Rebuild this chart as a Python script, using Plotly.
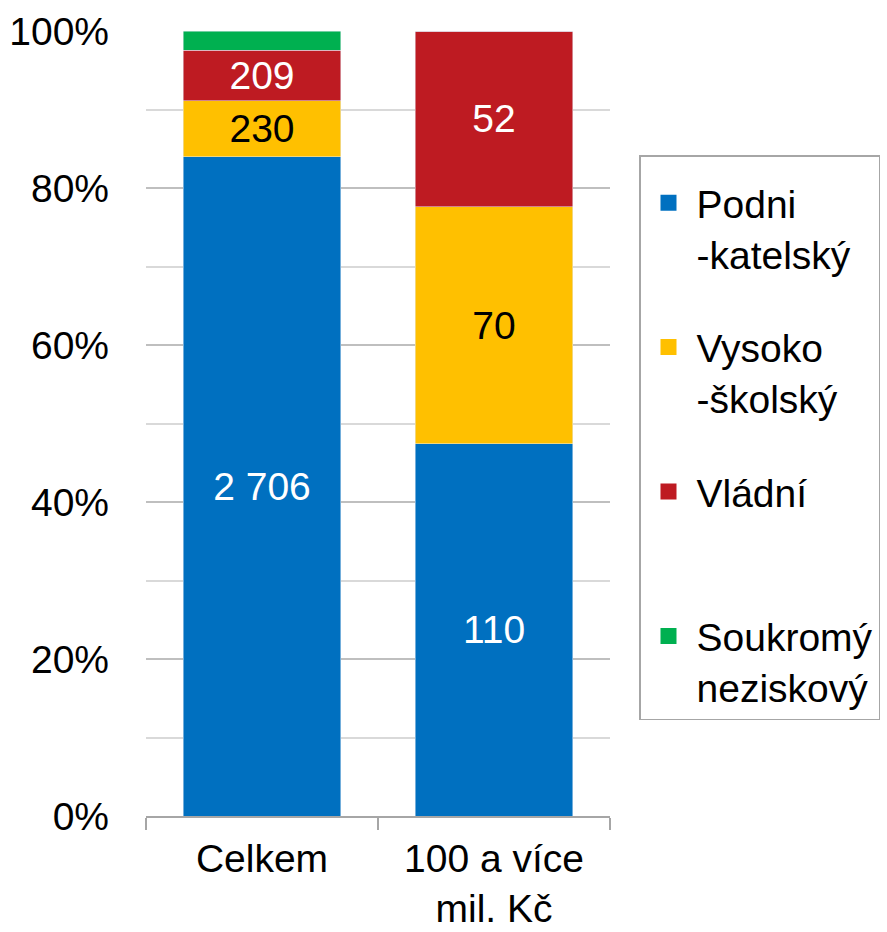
import plotly.graph_objects as go

categories = ["Celkem", "100 a více<br>mil. Kč"]
series_names = ["Podni<br>-katelský", "Vysoko<br>-školský", "Vládní<br>&nbsp;", "Soukromý<br>neziskový"]
podnikatelsky = [2706, 110]
vysokoskolsky = [230, 70]
vladni = [209, 52]
soukromy = [78, 0]
show_labels = [True, True, True, False]

colors = ["#0070C0", "#FFC000", "#BE1B22", "#00B050"]
text_colors = ["white", "black", "white", "white"]
FONT = "Liberation Sans, Arial, sans-serif"
FS = 39

fig = go.Figure()
for i, (name, vals) in enumerate(zip(series_names, [podnikatelsky, vysokoskolsky, vladni, soukromy])):
    txt = [f"{v:,}".replace(",", " ") if (show_labels[i] and v > 0) else "" for v in vals]
    fig.add_trace(go.Bar(
        x=categories, y=vals, name=name, marker_color=colors[i],
        text=txt, textposition="inside", insidetextanchor="middle",
        textfont=dict(size=FS, color=text_colors[i], family=FONT),
        showlegend=False, hoverinfo="skip",
    ))
    # legend entry
    fig.add_trace(go.Scatter(
        x=[None], y=[None], mode="markers", name=name,
        marker=dict(symbol="square", size=16, color=colors[i]),
        legendgroup=f"g{i}", showlegend=True,
    ))

fig.update_layout(
    width=887, height=932,
    barmode="stack", barnorm="fraction", bargap=0.32,
    plot_bgcolor="white", paper_bgcolor="white",
    font=dict(family=FONT, size=FS, color="black"),
    margin=dict(l=146, r=277, t=31, b=116, autoexpand=False),
    uniformtext=dict(mode="show", minsize=FS),
    legend=dict(
        x=1.0625, xanchor="left", y=0.842, yanchor="top",
        bordercolor="#A6A6A6", borderwidth=1.5, bgcolor="white",
        font=dict(size=FS, family=FONT),
        title=dict(text="&nbsp;", font=dict(size=11)),
        traceorder="grouped", tracegroupgap=40, valign="top",
        itemwidth=46,
    ),
)
fig.update_yaxes(
    range=[0, 1], tickvals=[0, 0.2, 0.4, 0.6, 0.8, 1.0], tickformat=".0%",
    showgrid=True, gridcolor="#BFBFBF", gridwidth=1.5,
    minor=dict(dtick=0.1, showgrid=True, gridcolor="#D9D9D9", gridwidth=1.5),
    zeroline=False, showline=False, ticks="", ticklabelstandoff=36,
    tickfont=dict(size=FS, family=FONT),
)
fig.update_xaxes(
    showline=True, linecolor="#A6A6A6", linewidth=1.5,
    ticks="outside", tickson="boundaries", ticklen=12, tickcolor="#A6A6A6", tickwidth=1.5,
    tickfont=dict(size=FS, family=FONT), ticklabelstandoff=7,
)
fig.write_html("out.html", config={"displayModeBar": False},
               post_script="document.body.style.margin='0';")
